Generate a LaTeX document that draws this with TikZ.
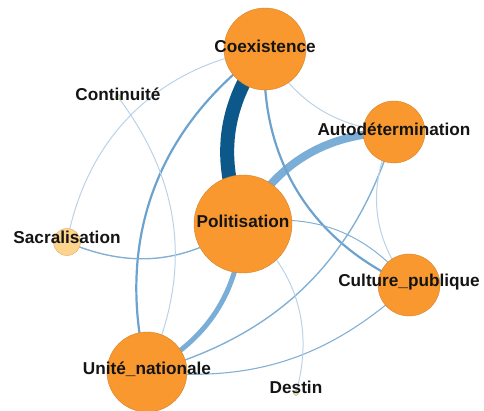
\documentclass[tikz,border=0pt]{standalone}
\usepackage{fontspec}
\setmainfont{Liberation Sans}
\usepackage{tikz}
\usetikzlibrary{positioning}

\pgfdeclarelayer{edges}
\pgfsetlayers{edges,main}

\definecolor{themeorange}{RGB}{248,152,46}
\definecolor{themeborder}{RGB}{214,130,44}
\definecolor{paleorange}{RGB}{252,212,142}
\definecolor{paleborder}{RGB}{222,170,90}
\definecolor{tinyfill}{RGB}{228,234,178}
\definecolor{darkblue}{RGB}{12,88,138}
\definecolor{lightblue}{RGB}{122,174,214}
\definecolor{midblue}{RGB}{108,162,206}
\definecolor{faintblue}{RGB}{186,210,232}

\begin{document}
\begin{tikzpicture}[x=1pt,y=1pt,
  theme/.style={circle,fill=themeorange,draw=themeborder,line width=0.4pt,inner sep=0pt},
  pale/.style={circle,fill=paleorange,draw=paleborder,line width=0.4pt,inner sep=0pt},
  tiny/.style={circle,fill=tinyfill,draw=tinyfill!70!black,line width=0.3pt,inner sep=0pt,minimum size=5pt},
  lbl/.style={font=\fontsize{17.2}{19}\selectfont\bfseries,text=black!92,yshift=3pt},
  strong/.style={darkblue,line width=14pt},
  heavy/.style={lightblue,line width=8pt},
  medium/.style={midblue,line width=2.2pt},
  light/.style={midblue!85,line width=1.4pt},
  faint/.style={faintblue,line width=1pt}]
  \useasboundingbox (0,0) rectangle (484,411);

  % themes
  \node[theme,minimum size=82pt,label={[lbl]center:Coexistence}] (coex) at (265,362) {};
  \node[theme,minimum size=62pt,label={[lbl]center:Autodétermination}] (auto) at (394,279) {};
  \node[theme,minimum size=98pt,label={[lbl]center:Politisation}] (polit) at (243,187) {};
  \node[pale,minimum size=27pt,label={[lbl,yshift=2pt]center:Sacralisation}] (sacr) at (67,169) {};
  \node[theme,minimum size=62pt,label={[lbl]center:Culture\_publique}] (cult) at (409,126) {};
  \node[theme,minimum size=80pt,label={[lbl]center:Unité\_nationale}] (unite) at (147,39) {};
  \node[tiny,label={[lbl]center:Continuité}] (cont) at (118,314) {};
  \node[tiny,label={[lbl,yshift=3pt]center:Destin}] (dest) at (296,18) {};

  % links
  \begin{pgfonlayer}{edges}
    \draw[strong] (coex.center) to[bend right=30] (polit.center);
    \draw[heavy] (polit.center) to[bend left=30] (auto.center);
    \draw[medium,line width=5pt,lightblue] (polit.center) to[bend left=29] (unite.center);
    \draw[medium] (coex.center) to[bend right=34] (unite.center);
    \draw[medium] (coex.center) to[bend right=35] (cult.center);
    \draw[light] (auto.center) to[bend left=29] (unite.center);
    \draw[light] (sacr.center) to[bend right=29] (polit.center);
    \draw[light,line width=1.1pt] (cult.center) to[bend left=24] (unite.center);
    \draw[light,line width=1pt] (polit.center) to[bend left=31] (cult.center);
    \draw[faint] (coex.center) to[bend right=35] (sacr.center);
    \draw[faint] (coex.center) to[bend right=28] (auto.center);
    \draw[faint] (auto.center) to[bend right=33] (cult.center);
    \draw[faint] (cont.center) to[bend left=31] (unite.center);
    \draw[faint] (polit.center) to[bend left=33] (dest.center);
  \end{pgfonlayer}
\end{tikzpicture}
\end{document}
